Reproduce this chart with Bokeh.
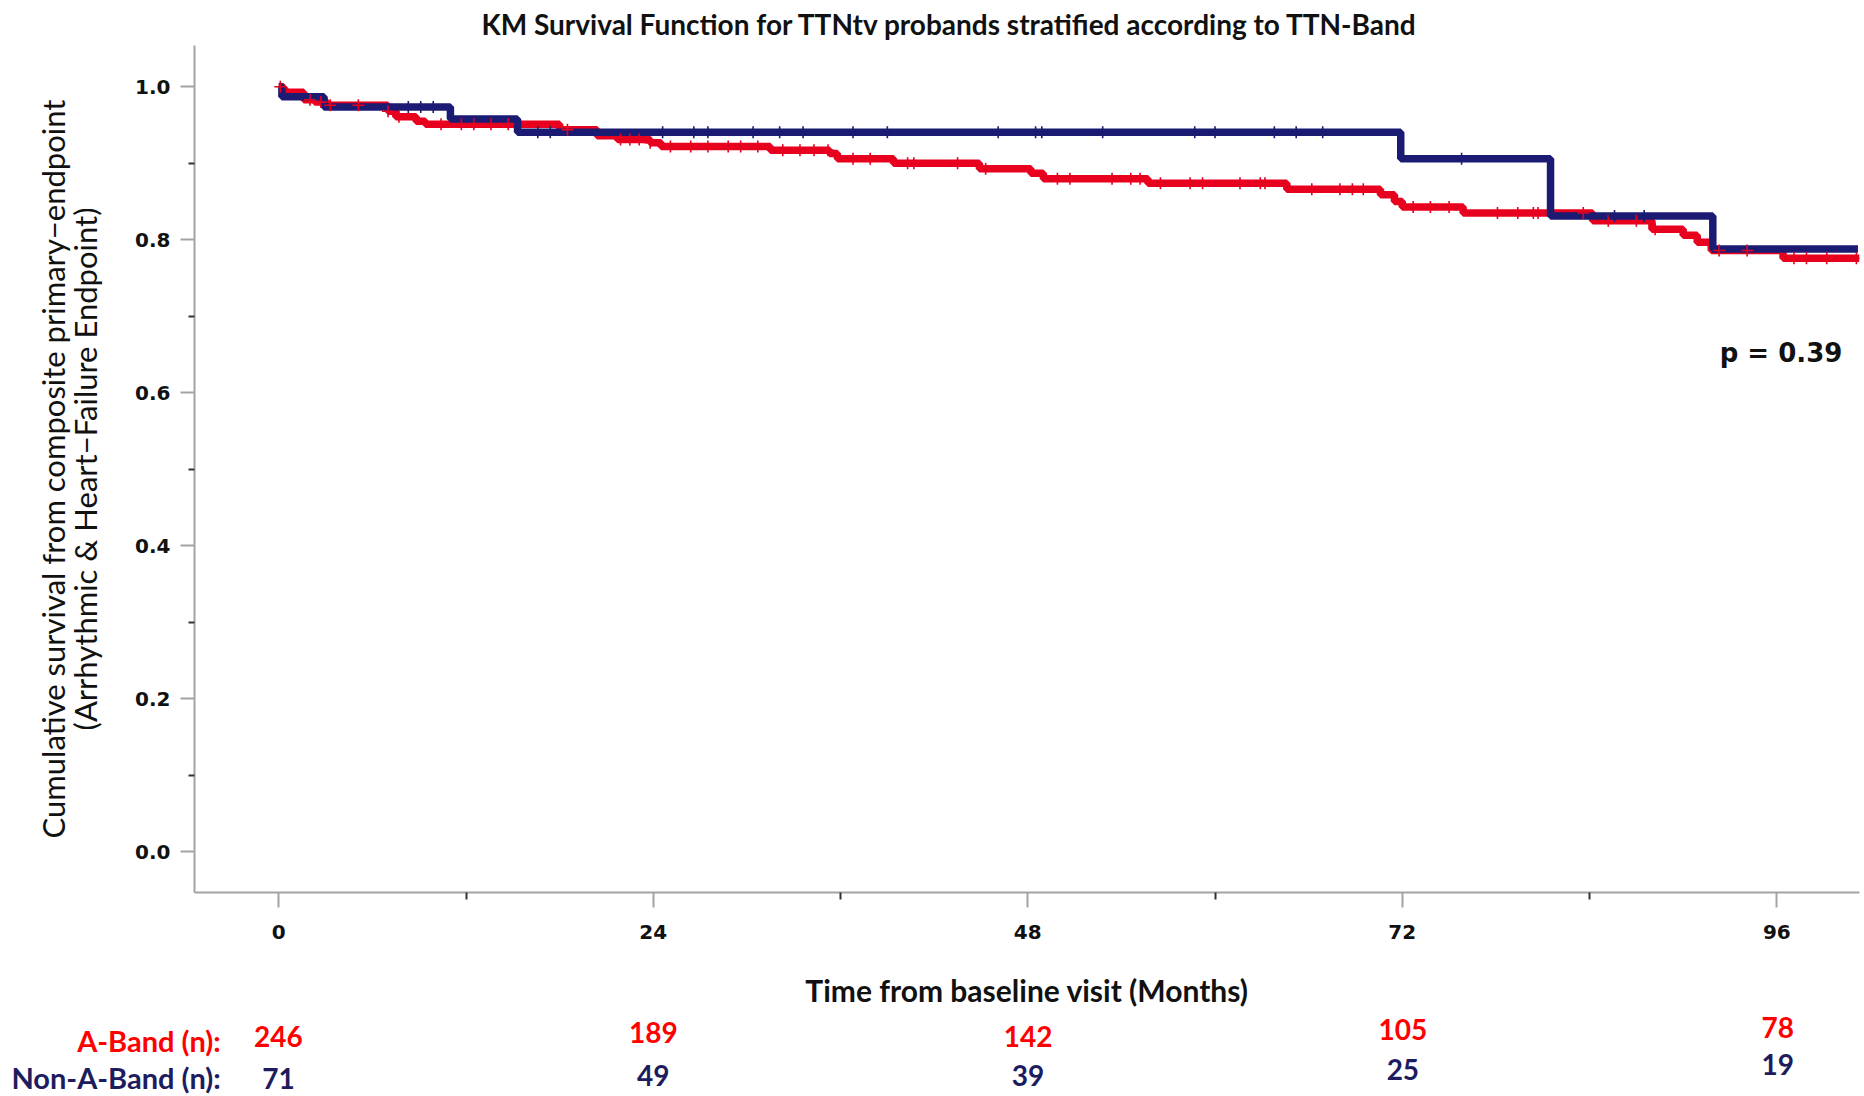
import numpy as np
from bokeh.plotting import figure
from bokeh.models import Range1d, FixedTicker, PrintfTickFormatter, Label
from bokeh.embed import file_html
from bokeh.resources import INLINE
from bokeh.core.properties import value

# Kaplan-Meier step estimates (time in months, cumulative survival)
a_band_time = [0.0, 0.3, 0.5, 1.6, 2.3, 3.1, 7.0, 7.5, 8.8, 9.4, 18.0, 20.4, 21.7,
               23.8, 24.5, 31.5, 35.3, 35.8, 39.4, 44.9, 48.2, 49.0, 55.7, 64.6,
               70.6, 71.5, 72.0, 75.9, 84.2, 88.0, 90.0, 90.9, 91.8, 96.4, 101.3]
a_band_surv = [1.000, 0.996, 0.993, 0.983, 0.980, 0.976, 0.968, 0.961, 0.955, 0.951,
               0.944, 0.936, 0.931, 0.927, 0.922, 0.917, 0.913, 0.906, 0.900, 0.893,
               0.887, 0.880, 0.874, 0.866, 0.859, 0.850, 0.843, 0.835, 0.825, 0.814,
               0.806, 0.797, 0.786, 0.776, 0.776]

non_a_time = [0.0, 0.2, 2.9, 11.0, 15.3, 71.9, 81.5, 91.9, 101.2]
non_a_surv = [1.000, 0.987, 0.9735, 0.958, 0.9405, 0.906, 0.831, 0.788, 0.788]

# censoring times
a_band_censor = [0.1, 2.0, 2.7, 3.3, 5.1, 7.0, 7.7, 10.4, 11.7, 12.5, 13.6, 14.7, 18.5,
                 21.9, 22.5, 23.1, 23.8, 25.1, 26.4, 27.5, 28.8, 29.6, 30.7, 32.3,
                 33.4, 34.3, 35.2, 36.8, 37.9, 40.3, 40.7, 43.5, 45.3, 49.9, 50.7,
                 53.4, 54.6, 55.2, 56.5, 58.4, 59.2, 61.6, 62.9, 63.2, 66.2, 68.0,
                 68.8, 69.5, 72.7, 73.8, 75.0, 78.1, 79.4, 80.4, 80.7, 83.6, 85.2,
                 87.0, 88.2, 92.3, 94.1, 97.1, 97.9, 99.2, 101.1]
non_a_censor = [8.3, 9.1, 9.9, 16.6, 17.4, 24.6, 26.6, 27.5, 30.4, 32.1, 33.6, 36.8,
                39.0, 46.1, 48.5, 48.9, 52.8, 58.7, 60.0, 63.8, 65.2, 66.9, 75.8,
                85.6, 87.5]

# numbers at risk
risk_months = [0, 24, 48, 72, 96]
a_band_at_risk = [246, 189, 142, 105, 78]
non_a_at_risk = [71, 49, 39, 25, 19]
risk_row_labels = ["A-Band (n):", "Non-A-Band (n):"]

x_ticks = [0, 24, 48, 72, 96]
x_minor_ticks = [12, 36, 60, 84]
y_ticks = [0.0, 0.2, 0.4, 0.6, 0.8, 1.0]
y_minor_ticks = [0.1, 0.3, 0.5, 0.7, 0.9]

p_value_text = "p = 0.39"

RED = "#E8001F"
NAVY = "#1B1B74"
RED_TXT = "#FF0000"
NAVY_TXT = "#1C1C5E"
AXIS_GREY = "#A3A3A3"


def surv_at(times, surv, t):
    idx = np.searchsorted(np.asarray(times), np.asarray(t), side="right") - 1
    return np.asarray(surv)[idx]


p = figure(width=1864, height=1010,
           x_range=Range1d(-5.4, 101.3), y_range=Range1d(-0.053, 1.054),
           output_backend="svg", toolbar_location=None,
           min_border_left=194, min_border_right=5,
           min_border_top=44, min_border_bottom=118)
p.outline_line_color = None
p.grid.visible = False
p.background_fill_color = "white"
p.border_fill_color = "white"

p.title.text = "KM Survival Function for TTNtv probands stratified according to TTN-Band"
p.title.align = "left"
p.title.offset = 287
p.title.standoff = 9
p.title.text_font = "Lato"
p.title.text_font_size = "28px"
p.title.text_line_height = 1.0
p.title.text_font_style = "bold"
p.title.text_color = "#111111"

# survival curves
p.step(a_band_time, a_band_surv, mode="after", line_color=RED, line_width=7.5)
p.step(non_a_time, non_a_surv, mode="after", line_color=NAVY, line_width=7.5)

# censor marks
p.scatter(a_band_censor, surv_at(a_band_time, a_band_surv, a_band_censor),
          marker="cross", size=12, line_color=RED, line_width=1.6)
p.scatter(non_a_censor, surv_at(non_a_time, non_a_surv, non_a_censor),
          marker="cross", size=12, line_color=NAVY, line_width=1.6)

xa = p.xaxis[0]
xa.ticker = FixedTicker(ticks=x_ticks, minor_ticks=x_minor_ticks)
xa.axis_label = "Time from baseline visit (Months)"
xa.axis_label_text_font = "Lato"
xa.axis_label_text_font_size = "30px"
xa.axis_label_text_font_style = "bold"
xa.axis_label_text_color = "#111111"
xa.axis_label_standoff = 30
xa.major_label_text_font = "DejaVu Sans"
xa.major_label_text_font_size = "20px"
xa.major_label_text_font_style = "bold"
xa.major_label_text_color = "#111111"
xa.major_label_standoff = 17
xa.axis_line_color = AXIS_GREY
xa.axis_line_width = 2
xa.major_tick_line_color = AXIS_GREY
xa.major_tick_line_width = 2
xa.major_tick_out = 15
xa.major_tick_in = 0
xa.minor_tick_line_color = "#333333"
xa.minor_tick_line_width = 2
xa.minor_tick_out = 7
xa.minor_tick_in = 0

ya = p.yaxis[0]
ya.ticker = FixedTicker(ticks=y_ticks, minor_ticks=y_minor_ticks)
ya.formatter = PrintfTickFormatter(format="%.1f")
ya.axis_label = ("Cumulative survival from composite primary\u2212endpoint\n"
                 "(Arrhythmic & Heart\u2212Failure Endpoint)")
ya.axis_label_text_font = "Lato"
ya.axis_label_text_font_size = "31px"
ya.axis_label_text_line_height = 0.85
ya.axis_label_text_font_style = "normal"
ya.axis_label_text_color = "#111111"
ya.axis_label_standoff = 28
ya.major_label_text_font = "DejaVu Sans"
ya.major_label_text_font_size = "20px"
ya.major_label_text_font_style = "bold"
ya.major_label_text_color = "#111111"
ya.major_label_standoff = 10
ya.axis_line_color = AXIS_GREY
ya.axis_line_width = 2
ya.major_tick_line_color = AXIS_GREY
ya.major_tick_line_width = 2
ya.major_tick_out = 14
ya.major_tick_in = 0
ya.minor_tick_line_color = "#333333"
ya.minor_tick_line_width = 2
ya.minor_tick_out = 6
ya.minor_tick_in = 0

p.add_layout(Label(x=100.2, y=0.652, text=p_value_text, text_align="right",
                   text_baseline="middle", text_font="DejaVu Sans",
                   text_font_size="26px", text_font_style="bold",
                   text_color="#111111"))

# number-at-risk table: a full-width strip whose month scale lines up with
# the survival plot above (month 0 at 278 px, 15.617 px per month);
# rows are measured in pixels from the top of the strip
r = figure(width=1864, height=86,
           x_range=Range1d(-17.8, 101.56), y_range=Range1d(86, 0),
           output_backend="svg", toolbar_location=None,
           x_axis_location=None, y_axis_location=None,
           min_border=0)
r.outline_line_color = None
r.grid.visible = False
r.background_fill_color = "white"
r.border_fill_color = "white"

row_label_y = [30, 67]
row_colors = [RED_TXT, NAVY_TXT]
a_row_y = [26, 22, 26, 19, 17]
n_row_y = [68, 65, 65, 59, 54]

r.text(x=[-3.7, -3.7], y=row_label_y, text=risk_row_labels, text_align="right",
       text_baseline="middle", text_font=value("Lato"), text_font_style="bold",
       text_font_size="29px", text_color=row_colors)
r.text(x=risk_months, y=a_row_y, text=[str(v) for v in a_band_at_risk],
       text_align="center", text_baseline="middle", text_font=value("Lato"),
       text_font_style="bold", text_font_size="28px", text_color=RED_TXT)
r.text(x=risk_months, y=n_row_y, text=[str(v) for v in non_a_at_risk],
       text_align="center", text_baseline="middle", text_font=value("Lato"),
       text_font_style="bold", text_font_size="28px", text_color=NAVY_TXT)

open("out.html", "w").write(file_html([p, r], INLINE))
